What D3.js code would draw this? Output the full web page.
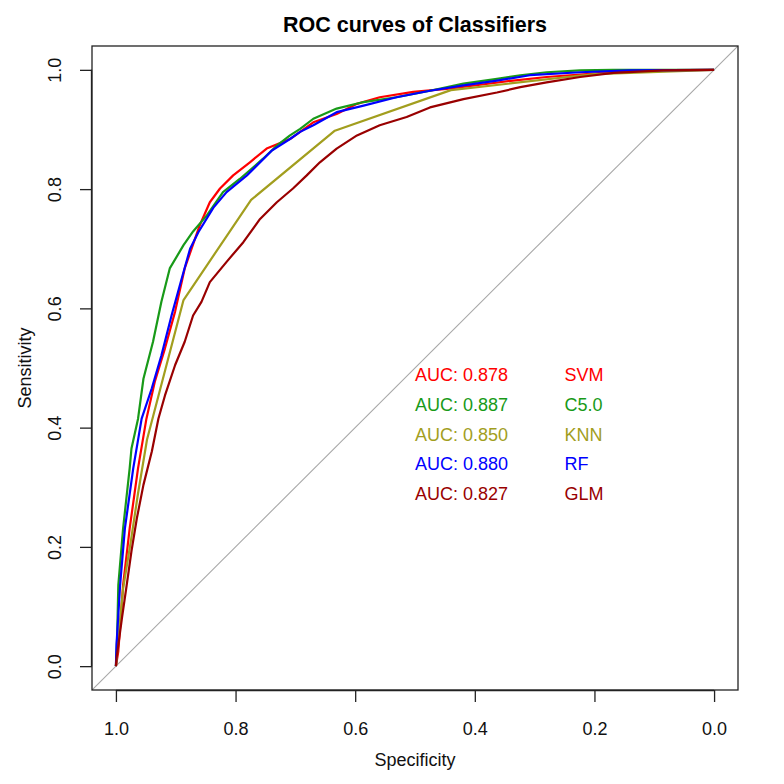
<!DOCTYPE html>
<html>
<head>
<meta charset="utf-8">
<script src="https://cdn.jsdelivr.net/npm/d3@7"></script>
<style>
  html, body { margin: 0; padding: 0; background: #ffffff; }
  svg text { font-family: "Liberation Sans", Arimo, Arial, Helvetica, sans-serif; }
</style>
</head>
<body>
<svg id="chart" width="784" height="784"></svg>
<script>
// ---------- DATA ----------
const classifiers = ["SVM", "C5.0", "KNN", "RF", "GLM"];
const aucValues = ["0.878", "0.887", "0.850", "0.880", "0.827"];
const colors = ["#FF0000", "#189A18", "#A29E1E", "#0000FF", "#990000"];
const aucLabelY = [0.50, 0.45, 0.40, 0.35, 0.30];
const xTicks = [1.0, 0.8, 0.6, 0.4, 0.2, 0.0];
const yTicks = [0.0, 0.2, 0.4, 0.6, 0.8, 1.0];

const svmSpec = [1.000, 0.996, 0.988, 0.977, 0.963, 0.949, 0.935, 0.918, 0.901, 0.885, 0.860, 0.843, 0.826, 0.804, 0.776, 0.748, 0.709, 0.670, 0.631, 0.597, 0.559, 0.503, 0.447, 0.391, 0.336, 0.280, 0.213, 0.140, 0.000];
const svmSens = [0.000, 0.025, 0.136, 0.231, 0.332, 0.415, 0.477, 0.533, 0.595, 0.667, 0.739, 0.778, 0.801, 0.823, 0.845, 0.868, 0.884, 0.912, 0.926, 0.943, 0.954, 0.963, 0.968, 0.975, 0.982, 0.988, 0.993, 0.999, 1.000];

const c50Spec = [1.000, 0.998, 0.996, 0.988, 0.977, 0.974, 0.963, 0.954, 0.938, 0.924, 0.910, 0.887, 0.871, 0.848, 0.821, 0.793, 0.754, 0.731, 0.709, 0.692, 0.670, 0.631, 0.586, 0.531, 0.475, 0.419, 0.363, 0.324, 0.280, 0.224, 0.169, 0.000];
const c50Sens = [0.000, 0.047, 0.136, 0.231, 0.332, 0.365, 0.415, 0.482, 0.544, 0.611, 0.667, 0.706, 0.729, 0.756, 0.795, 0.817, 0.851, 0.873, 0.890, 0.901, 0.918, 0.935, 0.946, 0.954, 0.965, 0.977, 0.985, 0.991, 0.996, 0.999, 1.000, 1.000];

const knnSpec = [1.000, 0.988, 0.975, 0.963, 0.948, 0.887, 0.774, 0.634, 0.440, 0.200, 0.000];
const knnSens = [0.000, 0.130, 0.210, 0.290, 0.380, 0.614, 0.782, 0.898, 0.966, 0.993, 1.000];

const rfSpec = [1.000, 0.999, 0.993, 0.985, 0.971, 0.957, 0.940, 0.924, 0.907, 0.890, 0.876, 0.862, 0.837, 0.815, 0.781, 0.740, 0.709, 0.692, 0.670, 0.631, 0.586, 0.531, 0.475, 0.419, 0.363, 0.308, 0.224, 0.140, 0.000];
const rfSens = [0.000, 0.036, 0.136, 0.231, 0.332, 0.415, 0.466, 0.521, 0.588, 0.650, 0.700, 0.728, 0.769, 0.795, 0.823, 0.864, 0.884, 0.896, 0.907, 0.929, 0.940, 0.954, 0.965, 0.974, 0.982, 0.991, 0.996, 0.999, 1.000];

const glmSpec = [1.000, 0.999, 0.990, 0.982, 0.974, 0.965, 0.954, 0.940, 0.929, 0.918, 0.901, 0.885, 0.871, 0.857, 0.843, 0.815, 0.787, 0.759, 0.731, 0.704, 0.681, 0.659, 0.631, 0.597, 0.559, 0.514, 0.475, 0.419, 0.363, 0.324, 0.280, 0.224, 0.168, 0.085, 0.000];
const glmSens = [0.000, 0.013, 0.080, 0.136, 0.193, 0.248, 0.304, 0.360, 0.415, 0.454, 0.505, 0.544, 0.588, 0.611, 0.644, 0.678, 0.711, 0.750, 0.778, 0.801, 0.823, 0.845, 0.868, 0.890, 0.907, 0.921, 0.937, 0.951, 0.962, 0.971, 0.979, 0.988, 0.995, 0.999, 1.000];

const seriesSpec = [svmSpec, c50Spec, knnSpec, rfSpec, glmSpec];
const seriesSens = [svmSens, c50Sens, knnSens, rfSens, glmSens];

// ---------- LAYOUT ----------
const box = { left: 92, right: 738, top: 46, bottom: 690 };
const svg = d3.select("#chart");

const x = d3.scaleLinear().domain([1.04, -0.04]).range([box.left, box.right]);
const y = d3.scaleLinear().domain([-0.04, 1.04]).range([box.bottom, box.top]);

svg.append("defs").append("clipPath").attr("id", "plotclip")
  .append("rect").attr("x", box.left).attr("y", box.top)
  .attr("width", box.right - box.left).attr("height", box.bottom - box.top);

const plot = svg.append("g").attr("clip-path", "url(#plotclip)");

// diagonal reference line sens = 1 - spec
plot.append("line")
  .attr("x1", x(1.04)).attr("y1", y(-0.04))
  .attr("x2", x(-0.04)).attr("y2", y(1.04))
  .attr("stroke", "#A8A8A8").attr("stroke-width", 1.1);

const line = d3.line().x(d => x(d[0])).y(d => y(d[1]));

classifiers.forEach((name, i) => {
  const pts = seriesSpec[i].map((s, j) => [s, seriesSens[i][j]]);
  plot.append("path")
    .datum(pts)
    .attr("d", line)
    .attr("fill", "none")
    .attr("stroke", colors[i])
    .attr("stroke-width", 2.2)
    .attr("stroke-linejoin", "round");
});

// box
svg.append("rect")
  .attr("x", box.left).attr("y", box.top)
  .attr("width", box.right - box.left).attr("height", box.bottom - box.top)
  .attr("fill", "none").attr("stroke", "#222").attr("stroke-width", 1.3);

// x axis
const xAxis = d3.axisBottom(x).tickValues(xTicks).tickFormat(d3.format(".1f"))
  .tickSize(12).tickPadding(20);
const gx = svg.append("g").attr("transform", `translate(0,${box.bottom})`).call(xAxis);
gx.select(".domain").attr("d", `M${x(1)},0.5H${x(0)}`).attr("stroke", "#222").attr("stroke-width", 1.3);
gx.selectAll(".tick line").attr("stroke", "#222").attr("stroke-width", 1.3);
gx.selectAll(".tick text").attr("font-size", 18).attr("fill", "#111")
  .attr("font-family", "Liberation Sans, Arial, sans-serif");

// y axis (labels parallel to axis, as in R)
const yAxis = d3.axisLeft(y).tickValues(yTicks).tickFormat(d3.format(".1f"))
  .tickSize(12).tickPadding(0);
const gy = svg.append("g").attr("transform", `translate(${box.left},0)`).call(yAxis);
gy.select(".domain").attr("d", `M-0.5,${y(0)}V${y(1)}`).attr("stroke", "#222").attr("stroke-width", 1.3);
gy.selectAll(".tick line").attr("stroke", "#222").attr("stroke-width", 1.3);
gy.selectAll(".tick text")
  .attr("font-size", 18).attr("fill", "#111")
  .attr("font-family", "Liberation Sans, Arial, sans-serif")
  .attr("x", null).attr("dy", null)
  .attr("text-anchor", "middle")
  .attr("transform", `translate(${61 - box.left},0) rotate(-90)`);

// titles
svg.append("text").attr("x", (box.left + box.right) / 2).attr("y", 31.5)
  .attr("text-anchor", "middle").attr("font-weight", "bold").attr("font-size", 21.5)
  .attr("fill", "#000").text("ROC curves of Classifiers");

svg.append("text").attr("x", (box.left + box.right) / 2).attr("y", 766)
  .attr("text-anchor", "middle").attr("font-size", 18).attr("fill", "#111")
  .text("Specificity");

svg.append("text")
  .attr("transform", `translate(31,${(box.top + box.bottom) / 2}) rotate(-90)`)
  .attr("text-anchor", "middle").attr("font-size", 18).attr("fill", "#111")
  .text("Sensitivity");

// AUC annotations
classifiers.forEach((name, i) => {
  svg.append("text")
    .attr("x", x(0.5)).attr("y", y(aucLabelY[i]) + 13)
    .attr("font-size", 18).attr("fill", colors[i])
    .text("AUC: " + aucValues[i]);
  svg.append("text")
    .attr("x", x(0.25)).attr("y", y(aucLabelY[i]) + 13)
    .attr("font-size", 18).attr("fill", colors[i])
    .text(name);
});
</script>
</body>
</html>
